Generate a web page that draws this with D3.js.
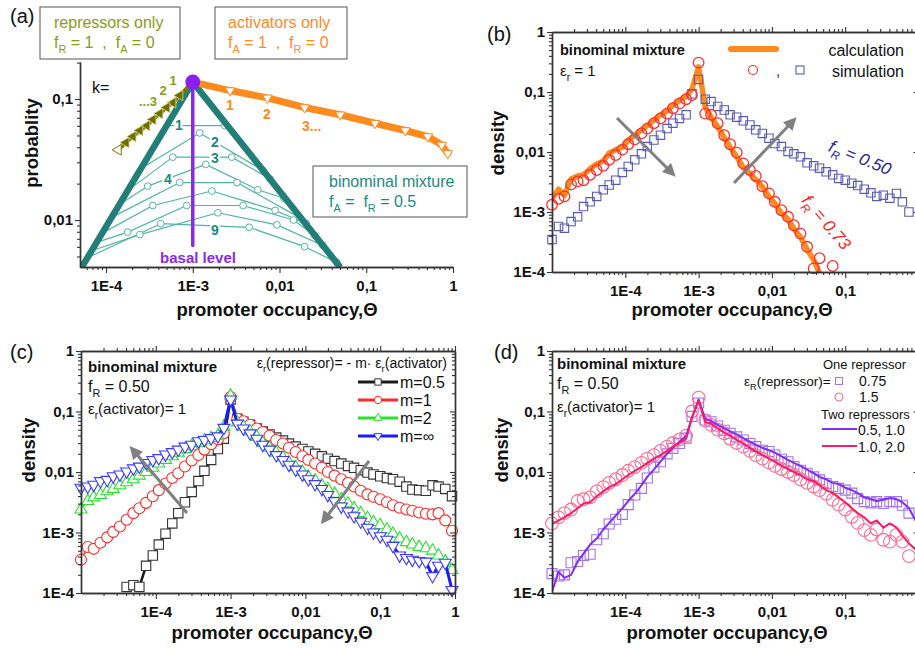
<!DOCTYPE html>
<html>
<head>
<meta charset="utf-8">
<script src="https://cdnjs.cloudflare.com/ajax/libs/d3/7.8.5/d3.min.js"></script>
<style>
  body { margin: 0; background: #fff; }
  svg { display: block; }
  text { white-space: pre; }
</style>
</head>
<body>
<svg id="fig" width="915" height="648"></svg>
<script>
(function () {
  'use strict';

  // ---------- data (log10 values) ----------
  // common log-binned occupancy grid for panels b, c, d
  var gridLog = [-5.00,-4.91,-4.83,-4.74,-4.65,-4.57,-4.48,-4.39,-4.30,-4.22,-4.13,-4.04,-3.96,-3.87,-3.78,-3.70,-3.61,-3.52,-3.43,-3.35,-3.26,-3.17,-3.09,-3.00,
                 -2.91,-2.83,-2.74,-2.65,-2.57,-2.48,-2.39,-2.30,-2.22,-2.13,-2.04,-1.96,-1.87,-1.78,-1.70,-1.61,-1.52,-1.43,-1.35,-1.26,-1.17,-1.09,-1.00,
                 -0.91,-0.83,-0.74,-0.65,-0.57,-0.48,-0.39,-0.30,-0.22,-0.13,-0.04];

  var xTickVals = [1e-4, 1e-3, 1e-2, 1e-1, 1];
  var xTickText = ['1E-4', '1E-3', '0,01', '0,1', '1'];
  var yTickVals = [1, 0.1, 0.01, 1e-3, 1e-4];
  var yTickText = ['1', '0,1', '0,01', '1E-3', '1E-4'];
  var aYTickVals = [0.1, 0.01];
  var aYTickText = ['0,1', '0,01'];

  // panel a: schematic
  var aPeak = [-3.0, -0.86];
  var aActX = [-3.0,-2.57,-2.14,-1.71,-1.30,-0.90,-0.55,-0.29,-0.13,-0.06];
  var aActP = [-0.86,-0.93,-0.99,-1.07,-1.13,-1.20,-1.26,-1.31,-1.38,-1.45];
  var aRepX = [-3.0,-3.15,-3.23,-3.30,-3.38,-3.46,-3.53,-3.61,-3.69,-3.77,-3.86];
  var aRepP = [-0.86,-0.97,-1.03,-1.07,-1.12,-1.17,-1.22,-1.26,-1.31,-1.36,-1.42];
  var aEnvX = [-4.28, -3.0, -1.30];
  var aEnvP = [-2.39, -0.86, -2.39];
  var aBasalP = [-0.86, -2.21];
  var aMixX = [
    [-3.30,-2.63],
    [-3.54,-2.92,-2.19],
    [-3.70,-3.23,-2.55,-2.11],
    [-3.84,-3.52,-2.85,-2.25,-1.95],
    [-3.94,-3.15,-2.49,-1.77],
    [-4.02,-3.46,-2.78,-2.05,-1.69],
    [-4.09,-3.75,-3.07,-2.42,-1.84,-1.59],
    [-4.15,-3.61,-2.71,-2.03,-1.50],
    [-4.21,-3.37,-2.35,-1.71,-1.34]
  ];
  var aMixP = [
    [-1.22,-1.22],
    [-1.55,-1.28,-1.59],
    [-1.73,-1.48,-1.48,-1.66],
    [-1.87,-1.72,-1.54,-1.75,-1.82],
    [-1.98,-1.69,-1.69,-1.98],
    [-2.10,-1.88,-1.76,-1.92,-2.03],
    [-2.18,-2.10,-1.88,-1.88,-2.00,-2.13],
    [-2.25,-2.12,-1.94,-2.04,-2.21],
    [-2.31,-2.03,-2.06,-2.22,-2.35]
  ];

  // panel b
  var bCalc073 = [-2.78,-2.62,-2.72,-2.45,-2.40,-2.38,-2.28,-2.20,-2.15,-2.02,-1.96,-1.92,-1.80,-1.72,-1.63,-1.56,-1.47,-1.38,-1.32,-1.22,-1.14,-1.07,-0.95,-0.58,
                  -1.25,-1.42,-1.58,-1.76,-1.92,-2.08,-2.26,-2.36,-2.46,-2.58,-2.74,-2.86,-3.02,-3.12,-3.28,-3.42,-3.62,-3.80,-4.02,
                  null,null,null,null,null,null,null,null,null,null,null,null,null,null,null];
  var bSim073 = [-2.88,-2.78,-2.74,-2.54,-2.49,-2.47,-2.38,-2.30,-2.23,-2.13,-2.05,-1.96,-1.87,-1.79,-1.69,-1.61,-1.52,-1.44,-1.36,-1.27,-1.19,-1.12,-1.05,-0.51,
                 -1.36,-1.38,-1.52,-1.72,-1.87,-2.01,-2.19,-2.30,-2.40,-2.57,-2.69,-2.83,-2.97,-3.08,-3.22,-3.36,-3.58,-3.94,-3.77,null,-3.90,
                 null,null,null,null,null,null,null,null,null,null,null,null,null];
  var bSim050 = [-3.46,-3.24,-3.27,-3.16,-3.08,-2.91,-2.83,-2.74,-2.63,-2.55,-2.47,-2.34,-2.24,-2.13,-2.03,-1.91,-1.80,-1.72,-1.61,-1.52,-1.44,-1.38,-1.03,-0.79,
                 -1.12,-1.16,-1.24,-1.30,-1.38,-1.42,-1.48,-1.55,-1.63,-1.69,-1.77,-1.86,-1.91,-1.99,-2.03,-2.08,-2.18,-2.23,-2.27,-2.33,-2.38,-2.44,-2.47,
                 -2.52,-2.56,-2.62,-2.68,-2.74,-2.72,-2.77,-2.69,-2.83,-3.00,null];

  // panel c
  var cM05 = [null,null,null,null,null,null,null,-3.90,-3.87,-3.90,-3.55,-3.38,-3.20,-3.02,-2.85,-2.68,-2.50,-2.33,-2.15,-1.98,-1.80,-1.62,-1.45,-0.80,
              -1.12,-1.17,-1.22,-1.28,-1.33,-1.38,-1.43,-1.48,-1.53,-1.58,-1.62,-1.66,-1.70,-1.74,-1.78,-1.82,-1.86,-1.90,-1.93,-1.97,-2.01,-2.04,-2.07,
              -2.10,-2.12,-2.16,-2.24,-2.29,-2.30,-2.31,-2.22,-2.24,-2.28,-2.40];
  var cM1 = [-3.45,-3.24,-3.27,-3.17,-3.08,-2.99,-2.90,-2.79,-2.68,-2.60,-2.51,-2.40,-2.30,-2.19,-2.10,-2.02,-1.91,-1.81,-1.72,-1.63,-1.54,-1.46,-1.36,-0.76,
             -1.12,-1.16,-1.22,-1.28,-1.34,-1.40,-1.47,-1.53,-1.60,-1.67,-1.74,-1.80,-1.86,-1.93,-2.00,-2.06,-2.12,-2.18,-2.24,-2.31,-2.37,-2.41,-2.45,
             -2.50,-2.55,-2.59,-2.62,-2.64,-2.67,-2.69,-2.70,-2.68,-2.80,-2.97];
  var cM2 = [-2.62,-2.48,-2.42,-2.38,-2.32,-2.28,-2.22,-2.17,-2.12,-2.06,-2.00,-1.93,-1.86,-1.80,-1.74,-1.68,-1.62,-1.57,-1.52,-1.48,-1.44,-1.40,-1.25,-0.74,
             -1.18,-1.25,-1.33,-1.42,-1.52,-1.60,-1.68,-1.76,-1.84,-1.92,-2.00,-2.08,-2.14,-2.22,-2.28,-2.36,-2.45,-2.52,-2.60,-2.68,-2.76,-2.83,-2.88,
             -2.95,-3.02,-3.10,-3.16,-3.20,-3.24,-3.26,-3.30,-3.38,-3.48,-3.62];
  var cMinf = [-2.26,-2.24,-2.21,-2.15,-2.13,-2.07,-2.04,-1.99,-1.94,-1.91,-1.85,-1.80,-1.77,-1.71,-1.67,-1.63,-1.58,-1.55,-1.49,-1.47,-1.44,-1.41,-1.27,-0.80,
               -1.20,-1.28,-1.36,-1.45,-1.55,-1.63,-1.72,-1.80,-1.88,-1.96,-2.04,-2.12,-2.20,-2.28,-2.38,-2.48,-2.57,-2.65,-2.73,-2.82,-2.92,-3.00,-3.06,
               -3.12,-3.22,-3.38,-3.42,-3.45,-3.47,-3.48,-3.72,-3.55,-3.50,-3.95];
  var cLegend = ['m=0.5', 'm=1', 'm=2', 'm=\u221e'];

  // panel d
  var dOne075 = [-3.68,-3.72,-3.70,-3.50,-3.48,-3.38,-3.36,-3.12,-3.02,-2.86,-2.78,-2.70,-2.54,-2.38,-2.27,-2.10,-1.92,-1.83,-1.70,-1.61,-1.53,-1.44,-1.08,-0.86,
                 -1.14,-1.17,-1.24,-1.31,-1.36,-1.42,-1.47,-1.53,-1.58,-1.64,-1.66,-1.72,-1.79,-1.83,-1.91,-1.97,-2.02,-2.08,-2.13,-2.19,-2.24,-2.27,-2.30,
                 -2.35,-2.44,-2.49,-2.51,-2.49,-2.52,-2.49,-2.49,-2.55,-2.68,null];
  var dOne15 = [-2.85,-2.75,-2.68,-2.62,-2.48,-2.45,-2.42,-2.32,-2.25,-2.18,-2.12,-2.05,-1.98,-1.92,-1.85,-1.78,-1.72,-1.65,-1.58,-1.52,-1.46,-1.40,-1.00,-0.77,
                -1.15,-1.22,-1.30,-1.36,-1.45,-1.52,-1.58,-1.65,-1.72,-1.78,-1.84,-1.90,-1.95,-2.00,-2.05,-2.12,-2.18,-2.24,-2.30,-2.36,-2.46,-2.54,-2.62,
                -2.74,-2.84,-2.96,-3.04,-2.95,-3.12,-3.15,-3.04,-3.15,-3.39,null];
  var dTwo0510 = [-3.98,-3.65,-3.75,-3.70,-3.48,-3.35,-3.20,-3.10,-2.95,-2.84,-2.72,-2.60,-2.48,-2.36,-2.22,-2.08,-1.96,-1.83,-1.70,-1.60,-1.50,-1.40,-1.10,-0.80,
                  -1.12,-1.16,-1.22,-1.28,-1.33,-1.38,-1.44,-1.50,-1.55,-1.60,-1.64,-1.68,-1.74,-1.80,-1.85,-1.90,-1.96,-2.02,-2.08,-2.12,-2.18,-2.20,-2.26,
                  -2.30,-2.35,-2.42,-2.45,-2.48,-2.46,-2.43,-2.45,-2.50,-2.60,-2.80];
  var dTwo1020 = [-2.86,-2.80,-2.75,-2.68,-2.60,-2.52,-2.50,-2.40,-2.32,-2.25,-2.20,-2.12,-2.05,-1.98,-1.92,-1.85,-1.78,-1.72,-1.65,-1.58,-1.52,-1.45,-1.10,-0.82,
                  -1.18,-1.20,-1.28,-1.35,-1.40,-1.47,-1.53,-1.60,-1.66,-1.72,-1.78,-1.83,-1.90,-1.95,-2.00,-2.05,-2.12,-2.15,-2.22,-2.30,-2.35,-2.42,-2.50,
                  -2.60,-2.68,-2.75,-2.85,-2.80,-2.92,-2.85,-2.92,-3.05,-3.18,-3.28];

  // ---------- helpers ----------
  var FONT = '"Liberation Sans", Arial, Helvetica, sans-serif';
  var svg = d3.select('#fig').attr('font-family', FONT);
  svg.append('rect').attr('width', 915).attr('height', 648).attr('fill', '#fff');
  var defs = svg.append('defs');
  defs.append('marker').attr('id', 'ah').attr('viewBox', '0 0 10 10')
    .attr('refX', 6).attr('refY', 5).attr('markerWidth', 13).attr('markerHeight', 13)
    .attr('markerUnits', 'userSpaceOnUse').attr('orient', 'auto')
    .append('path').attr('d', 'M0,0L10,5L0,10z').attr('fill', '#808080');

  function P(v) { return Math.pow(10, v); }

  function minorTicks(lo, hi) {
    var out = [];
    for (var e = -6; e <= 0; e++) {
      for (var m = 2; m <= 9; m++) {
        var v = m * Math.pow(10, e);
        if (v >= lo * 1.0001 && v <= hi * 0.9999) out.push(v);
      }
    }
    return out;
  }

  function styleAxis(sel, sw) {
    sel.attr('font-family', FONT).attr('font-size', 15).attr('font-weight', 'bold');
    sel.selectAll('.domain').attr('stroke', '#333').attr('stroke-width', sw || 1.4);
    sel.selectAll('.tick line').attr('stroke', '#333').attr('stroke-width', 1.1);
    sel.selectAll('.tick text').attr('fill', '#111');
    return sel;
  }

  function makePanel(x0, x1, xDom, yb, yt, yDom, id) {
    var p = {
      x: d3.scaleLog().domain(xDom).range([x0, x1]),
      y: d3.scaleLog().domain(yDom).range([yb, yt])
    };
    defs.append('clipPath').attr('id', id).append('rect')
      .attr('x', x0).attr('y', yt).attr('width', x1 - x0).attr('height', yb - yt);
    p.clip = 'url(#' + id + ')';
    return p;
  }

  function framedAxes(p, xt, xl) {
    var xr = p.x.range(), yr = p.y.range();
    var xmin = minorTicks(p.x.domain()[0], p.x.domain()[1]);
    var ymin = minorTicks(p.y.domain()[0], p.y.domain()[1]);
    // bottom
    styleAxis(svg.append('g').attr('transform', 'translate(0,' + yr[0] + ')')
      .call(d3.axisBottom(p.x).tickValues(xt).tickFormat(function (d, i) { return xl[i]; })
        .tickSize(6).tickSizeOuter(0).tickPadding(7)));
    styleAxis(svg.append('g').attr('transform', 'translate(0,' + yr[0] + ')')
      .call(d3.axisBottom(p.x).tickValues(xmin).tickFormat('').tickSize(3).tickSizeOuter(0)));
    // top
    styleAxis(svg.append('g').attr('transform', 'translate(0,' + yr[1] + ')')
      .call(d3.axisTop(p.x).tickValues(xt).tickFormat('').tickSize(5).tickSizeOuter(0)));
    styleAxis(svg.append('g').attr('transform', 'translate(0,' + yr[1] + ')')
      .call(d3.axisTop(p.x).tickValues(xmin).tickFormat('').tickSize(3).tickSizeOuter(0)));
    // left
    styleAxis(svg.append('g').attr('transform', 'translate(' + xr[0] + ',0)')
      .call(d3.axisLeft(p.y).tickValues(yTickVals).tickFormat(function (d, i) { return yTickText[i]; })
        .tickSize(5).tickSizeOuter(0).tickPadding(2)));
    styleAxis(svg.append('g').attr('transform', 'translate(' + xr[0] + ',0)')
      .call(d3.axisLeft(p.y).tickValues(ymin).tickFormat('').tickSize(3).tickSizeOuter(0)));
    // right (inward)
    styleAxis(svg.append('g').attr('transform', 'translate(' + xr[1] + ',0)')
      .call(d3.axisLeft(p.y).tickValues(yTickVals).tickFormat('').tickSize(5).tickSizeOuter(0)));
    styleAxis(svg.append('g').attr('transform', 'translate(' + xr[1] + ',0)')
      .call(d3.axisLeft(p.y).tickValues(ymin).tickFormat('').tickSize(3).tickSizeOuter(0)));
  }

  function pairs(xs, ys) {
    return xs.map(function (v, i) { return [v, ys[i]]; });
  }

  function drawLine(p, xs, ys, color, width, clip) {
    var line = d3.line()
      .defined(function (d) { return d[1] != null; })
      .x(function (d) { return p.x(P(d[0])); })
      .y(function (d) { return p.y(P(d[1])); });
    var path = svg.append('path').datum(pairs(xs, ys)).attr('d', line)
      .attr('fill', 'none').attr('stroke', color).attr('stroke-width', width)
      .attr('stroke-linejoin', 'round').attr('stroke-linecap', 'round');
    if (clip) path.attr('clip-path', p.clip);
    return path;
  }

  function drawMarks(p, xs, ys, shape, size, stroke, fill, sw, rot) {
    var data = pairs(xs, ys).filter(function (d) { return d[1] != null; });
    return svg.append('g').selectAll('path').data(data).enter().append('path')
      .attr('transform', function (d) {
        return 'translate(' + p.x(P(d[0])) + ',' + p.y(P(d[1])) + ') rotate(' + (rot || 0) + ')';
      })
      .attr('d', d3.symbol().type(shape).size(size))
      .attr('fill', fill).attr('stroke', stroke).attr('stroke-width', sw);
  }

  // text with optional subscripts: parts = [[str, isSub], ...]
  function rich(x, y, parts, size, opts) {
    opts = opts || {};
    var t = svg.append('text').attr('x', x).attr('y', y).attr('font-size', size)
      .attr('fill', opts.fill || '#111')
      .attr('font-weight', opts.bold ? 'bold' : 'normal')
      .attr('font-style', opts.italic ? 'italic' : 'normal')
      .attr('text-anchor', opts.anchor || 'start');
    if (opts.rotate != null) t.attr('transform', 'rotate(' + opts.rotate + ',' + x + ',' + y + ')');
    var down = false;
    parts.forEach(function (pt) {
      var s = t.append('tspan').text(pt[0]);
      if (pt[1] && !down) { s.attr('dy', size * 0.3).attr('font-size', size * 0.68); down = true; }
      else if (!pt[1] && down) { s.attr('dy', -size * 0.3); down = false; }
      else if (pt[1]) { s.attr('font-size', size * 0.68); }
    });
    return t;
  }

  function label(x, y, str, size, opts) { return rich(x, y, [[str, false]], size, opts); }

  function arrow(x1, y1, x2, y2) {
    svg.append('line').attr('x1', x1).attr('y1', y1).attr('x2', x2).attr('y2', y2)
      .attr('stroke', '#808080').attr('stroke-width', 3).attr('marker-end', 'url(#ah)');
  }

  function xTitle(cx, y) {
    label(cx, y, 'promoter occupancy,\u0398', 18.5, { bold: true, anchor: 'middle' });
  }
  function yTitle(cx, cy, str) {
    svg.append('text').attr('transform', 'translate(' + cx + ',' + cy + ') rotate(-90)')
      .attr('text-anchor', 'middle').attr('dy', '0.35em').attr('font-size', 18.5)
      .attr('font-weight', 'bold').attr('fill', '#111').text(str);
  }

  // ---------- panel (a) ----------
  var pa = makePanel(80, 453, [P(-4.3), 1], 267, 62, [P(-2.388), P(-0.694)], 'clipA');
  var TEAL = '#227f78', TEAL_THIN = '#54b4a4';

  aMixX.forEach(function (xs, k) {
    drawLine(pa, xs, aMixP[k], TEAL_THIN, 1.2, true);
  });
  aMixX.forEach(function (xs, k) {
    drawMarks(pa, xs.slice(1), aMixP[k].slice(1), d3.symbolCircle, 36, TEAL_THIN, '#fff', 1);
  });
  drawLine(pa, aEnvX, aEnvP, TEAL, 6.5, true).attr('stroke-linecap', 'butt');
  drawLine(pa, [aPeak[0], aPeak[0]], aBasalP, '#8a2be2', 3.5);

  drawLine(pa, aRepX, aRepP, '#7a7a00', 4);
  drawMarks(pa, aRepX.slice(1, -1), aRepP.slice(1, -1), d3.symbolTriangle, 48, '#d8d890', '#6e6e00', 0.8, -90);
  drawMarks(pa, aRepX.slice(-1), aRepP.slice(-1), d3.symbolTriangle, 48, '#7a7a00', '#fff', 1, -90);

  drawLine(pa, aActX, aActP, '#ff8a1e', 7);
  drawMarks(pa, aActX.slice(1), aActP.slice(1), d3.symbolTriangle, 40, '#ff8a1e', '#fff', 1, 180);

  svg.append('circle').attr('cx', pa.x(P(aPeak[0]))).attr('cy', pa.y(P(aPeak[1])))
    .attr('r', 7.5).attr('fill', '#8c1ff0');

  // axes of (a): left and bottom only
  (function () {
    var xmin = minorTicks(pa.x.domain()[0], pa.x.domain()[1]);
    var ymin = minorTicks(pa.y.domain()[0], pa.y.domain()[1]);
    styleAxis(svg.append('g').attr('transform', 'translate(0,267)')
      .call(d3.axisBottom(pa.x).tickValues(xTickVals).tickFormat(function (d, i) { return xTickText[i]; })
        .tickSize(6).tickSizeOuter(0).tickPadding(7)));
    styleAxis(svg.append('g').attr('transform', 'translate(0,267)')
      .call(d3.axisBottom(pa.x).tickValues(xmin).tickFormat('').tickSize(3).tickSizeOuter(0)));
    styleAxis(svg.append('g').attr('transform', 'translate(80,0)')
      .call(d3.axisLeft(pa.y).tickValues(aYTickVals).tickFormat(function (d, i) { return aYTickText[i]; })
        .tickSize(5).tickSizeOuter(0).tickPadding(2)));
    styleAxis(svg.append('g').attr('transform', 'translate(80,0)')
      .call(d3.axisLeft(pa.y).tickValues(ymin).tickFormat('').tickSize(3).tickSizeOuter(0)));
  })();

  // k labels on mixture lines
  [['1', 179, 130], ['2', 215, 147], ['3', 215, 163], ['4', 168, 184], ['9', 215, 235]].forEach(function (l) {
    label(l[1], l[2], l[0], 14, { bold: true, anchor: 'middle', fill: '#1b8a7e' })
      .attr('stroke', '#fff').attr('stroke-width', 4).attr('paint-order', 'stroke');
  });
  label(92, 93, 'k=', 16, {});
  label(173, 85, '1', 13, { bold: true, fill: '#8a9a1c', anchor: 'middle' });
  label(163, 95, '2', 13, { bold: true, fill: '#8a9a1c', anchor: 'middle' });
  label(139, 106, '...3', 13, { bold: true, fill: '#8a9a1c' });
  label(230, 110, '1', 14, { bold: true, fill: '#ff8a1e', anchor: 'middle' });
  label(267, 119, '2', 14, { bold: true, fill: '#ff8a1e', anchor: 'middle' });
  label(302, 131, '3...', 14, { bold: true, fill: '#ff8a1e' });
  label(198, 263, 'basal level', 15, { bold: true, fill: '#8a2be2', anchor: 'middle' });

  // boxes
  [[40, 7, 140, 52], [215, 7, 132, 52], [313, 166, 154, 51]].forEach(function (b) {
    svg.append('rect').attr('x', b[0]).attr('y', b[1]).attr('width', b[2]).attr('height', b[3])
      .attr('fill', '#fff').attr('stroke', '#555').attr('stroke-width', 1);
  });
  label(54, 28, 'repressors only', 16, { fill: '#8a9a1c' });
  rich(54, 48, [['f', 0], ['R', 1], [' = 1  ,  f', 0], ['A', 1], [' = 0', 0]], 16, { fill: '#8a9a1c' });
  label(228, 28, 'activators only', 16, { fill: '#ff8a1e' });
  rich(228, 48, [['f', 0], ['A', 1], [' = 1  ,  f', 0], ['R', 1], [' = 0', 0]], 16, { fill: '#ff8a1e' });
  label(329, 187, 'binominal mixture', 16, { fill: '#1b8a7e' });
  rich(329, 207, [['f', 0], ['A', 1], [' =  f', 0], ['R', 1], [' = 0.5', 0]], 16, { fill: '#1b8a7e' });

  xTitle(277, 316);
  yTitle(32, 143, 'probablity');
  label(10, 23, '(a)', 20, {});

  // ---------- panel (b) ----------
  var pb = makePanel(552, 918.5, [1e-5, 1], 272, 32, [1e-4, 1], 'clipB');
  drawLine(pb, gridLog, bCalc073, '#ff8a1e', 5.5, true);
  drawMarks(pb, gridLog, bSim050, d3.symbolSquare, 70, '#5a5ab4', 'none', 1.1);
  drawMarks(pb, gridLog, bSim073, d3.symbolCircle, 88, '#ff3030', 'none', 1.3);
  framedAxes(pb, xTickVals.slice(0, 4), xTickText.slice(0, 4));
  arrow(617, 118, 672, 173);
  arrow(734, 183, 793, 121);
  rich(858, 163, [['f', 0], ['R', 1], [' = 0.50', 0]], 17, { italic: true, fill: '#24248a', anchor: 'middle', rotate: 22 });
  rich(822, 226, [['f', 0], ['R', 1], [' = 0.73', 0]], 17, { italic: true, fill: '#ff2020', anchor: 'middle', rotate: 50 });
  label(560, 55, 'binominal mixture', 14.5, { bold: true });
  rich(560, 76, [['\u03b5', 0], ['r', 1], [' = 1', 0]], 15, {});
  svg.append('line').attr('x1', 731).attr('x2', 776).attr('y1', 49).attr('y2', 49)
    .attr('stroke', '#ff8a1e').attr('stroke-width', 6).attr('stroke-linecap', 'round');
  label(904, 56, 'calculation', 16, { anchor: 'end' });
  svg.append('circle').attr('cx', 753).attr('cy', 70).attr('r', 4.5).attr('fill', 'none').attr('stroke', '#ff3030').attr('stroke-width', 1.2);
  label(776, 76, ',', 15, {});
  svg.append('rect').attr('x', 796).attr('y', 66).attr('width', 8).attr('height', 8).attr('fill', 'none').attr('stroke', '#5a5ab4').attr('stroke-width', 1.1);
  label(904, 77, 'simulation', 16, { anchor: 'end' });
  xTitle(732, 316);
  yTitle(498, 143, 'density');
  label(487, 41, '(b)', 20, {});

  // ---------- panel (c) ----------
  var pc = makePanel(81, 455, [1e-5, 1], 593, 351, [1e-4, 1], 'clipC');
  var cSeries = [
    { v: cM05, color: '#1a1a1a', mk: '#333', w: 2.6, shape: d3.symbolSquare, size: 88, rot: 0 },
    { v: cM1, color: '#ff2a2a', mk: '#ff2a2a', w: 1.5, shape: d3.symbolCircle, size: 95, rot: 0 },
    { v: cM2, color: '#2de02d', mk: '#2de02d', w: 1.5, shape: d3.symbolTriangle, size: 62, rot: 0 },
    { v: cMinf, color: '#1a1aff', mk: '#3a3aff', w: 3, shape: d3.symbolTriangle, size: 62, rot: 180 }
  ];
  cSeries.forEach(function (s) {
    drawLine(pc, gridLog, s.v, s.color, s.w, true);
    drawMarks(pc, gridLog, s.v, s.shape, s.size, s.mk, '#fff', 1.1, s.rot);
  });
  framedAxes(pc, xTickVals, xTickText);
  arrow(187, 513, 133, 450);
  arrow(369, 461, 324, 520);
  label(88, 372, 'binominal mixture', 15, { bold: true });
  rich(88, 392, [['f', 0], ['R', 1], [' = 0.50', 0]], 16, {});
  rich(88, 414, [['\u03b5', 0], ['r', 1], ['(activator)= 1', 0]], 15, {});
  rich(447, 368, [['\u03b5', 0], ['r', 1], ['(repressor)= - m\u00b7 \u03b5', 0], ['r', 1], ['(activator)', 0]], 14, { anchor: 'end' });
  cSeries.forEach(function (s, i) {
    var ly = 382 + i * 18;
    svg.append('line').attr('x1', 358).attr('x2', 398).attr('y1', ly).attr('y2', ly)
      .attr('stroke', s.color).attr('stroke-width', 3);
    svg.append('path').attr('transform', 'translate(378,' + ly + ') rotate(' + s.rot + ')')
      .attr('d', d3.symbol().type(s.shape).size(s.size * 0.45)).attr('fill', '#fff')
      .attr('stroke', s.mk).attr('stroke-width', 1);
    label(400, ly + 6, cLegend[i], 16, {});
  });
  xTitle(272, 639);
  yTitle(29, 450, 'density');
  label(10, 359, '(c)', 20, {});

  // ---------- panel (d) ----------
  var pd = makePanel(552, 918.5, [1e-5, 1], 593, 351, [1e-4, 1], 'clipD');
  drawMarks(pd, gridLog, dOne075, d3.symbolSquare, 100, '#a373f0', 'none', 1.1);
  drawMarks(pd, gridLog, dOne15, d3.symbolCircle, 128, '#ff6c90', 'none', 1.1);
  drawLine(pd, gridLog, dTwo0510, '#7f2fef', 2, true);
  drawLine(pd, gridLog, dTwo1020, '#ff1a66', 2, true);
  framedAxes(pd, xTickVals.slice(0, 4), xTickText.slice(0, 4));
  label(557, 369, 'binominal mixture', 15, { bold: true });
  rich(557, 389, [['f', 0], ['R', 1], [' = 0.50', 0]], 16, {});
  rich(557, 412, [['\u03b5', 0], ['r', 1], ['(activator)= 1', 0]], 15, {});
  label(823, 369, 'One repressor', 13, {});
  rich(744, 386, [['\u03b5', 0], ['R', 1], ['(repressor)=', 0]], 13.5, {});
  svg.append('rect').attr('x', 835.5).attr('y', 377.5).attr('width', 7).attr('height', 7)
    .attr('fill', 'none').attr('stroke', '#a373f0').attr('stroke-width', 1);
  label(859, 386, '0.75', 14, {});
  svg.append('circle').attr('cx', 839).attr('cy', 397).attr('r', 4)
    .attr('fill', 'none').attr('stroke', '#ff6c90').attr('stroke-width', 1);
  label(859, 402, '1.5', 14, {});
  label(821, 419, 'Two repressors', 13, {});
  svg.append('line').attr('x1', 822).attr('x2', 857).attr('y1', 429).attr('y2', 429)
    .attr('stroke', '#7f2fef').attr('stroke-width', 2.2);
  label(858, 435, '0.5, 1.0', 14, {});
  svg.append('line').attr('x1', 822).attr('x2', 857).attr('y1', 446).attr('y2', 446)
    .attr('stroke', '#ff1a66').attr('stroke-width', 2.2);
  label(858, 452, '1.0, 2.0', 14, {});
  xTitle(727, 639);
  yTitle(502, 450, 'density');
  label(494, 359, '(d)', 20, {});
})();
</script>
</body>
</html>
